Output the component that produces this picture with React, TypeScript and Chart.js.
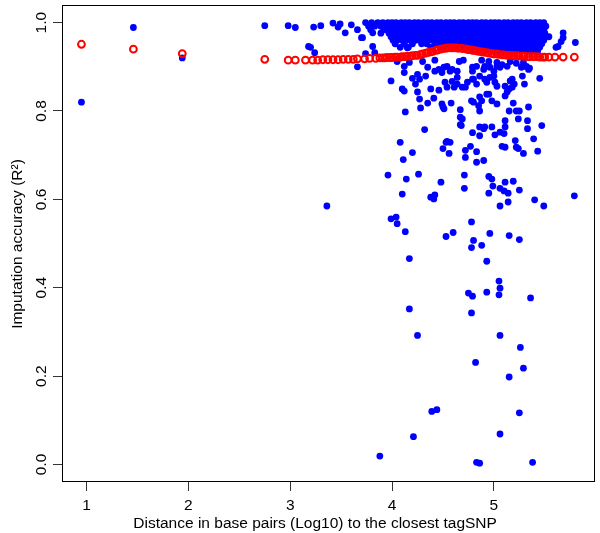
import React, { useEffect, useRef } from 'react';
import { Chart, registerables } from 'chart.js';

Chart.register(...registerables);

// ---------- axis definitions ----------
const X_TICKS = [1, 2, 3, 4, 5];
const Y_TICKS = [0, 0.2, 0.4, 0.6, 0.8, 1.0];
const X_LIMITS = [0.759, 5.983];
const Y_LIMITS = [-0.0396, 1.0376];
const X_TITLE = 'Distance in base pairs (Log10) to the closest tagSNP';
const Y_TITLE = 'Imputation accuracy (R\u00b2)';

// ---------- red smoothed accuracy (open circles) ----------
const smoothCurve: [number, number][] = [
  [0.95, 0.951], [1.46, 0.94], [1.94, 0.93], [2.75, 0.917], [2.98, 0.915], [3.05, 0.915],
  [3.15, 0.915], [3.22, 0.915], [3.27, 0.915], [3.32, 0.916], [3.37, 0.916], [3.42, 0.916],
  [3.47, 0.916], [3.52, 0.917], [3.57, 0.917], [3.62, 0.917], [3.66, 0.918], [3.73, 0.918],
  [3.78, 0.919], [3.84, 0.919], [3.88, 0.92], [3.91, 0.92], [3.93, 0.92], [3.95, 0.921],
  [3.98, 0.921], [4.0, 0.921], [4.03, 0.922], [4.05, 0.922], [4.08, 0.922], [4.1, 0.923],
  [4.13, 0.923], [4.15, 0.924], [4.18, 0.924], [4.2, 0.925], [4.23, 0.926], [4.25, 0.926],
  [4.28, 0.928], [4.3, 0.929], [4.33, 0.931], [4.35, 0.932], [4.38, 0.934], [4.4, 0.935],
  [4.43, 0.937], [4.45, 0.938], [4.48, 0.94], [4.5, 0.941], [4.53, 0.942], [4.55, 0.943],
  [4.58, 0.943], [4.6, 0.943], [4.63, 0.943], [4.65, 0.942], [4.68, 0.942], [4.7, 0.941],
  [4.73, 0.94], [4.75, 0.939], [4.78, 0.938], [4.8, 0.937], [4.83, 0.936], [4.85, 0.935],
  [4.88, 0.934], [4.9, 0.933], [4.93, 0.932], [4.95, 0.931], [4.98, 0.93], [5.0, 0.929],
  [5.03, 0.929], [5.05, 0.928], [5.08, 0.927], [5.1, 0.927], [5.13, 0.926], [5.15, 0.926],
  [5.18, 0.925], [5.2, 0.925], [5.23, 0.925], [5.25, 0.924], [5.28, 0.924], [5.3, 0.924],
  [5.33, 0.923], [5.35, 0.923], [5.38, 0.923], [5.4, 0.923], [5.43, 0.923], [5.45, 0.922],
  [5.48, 0.922], [5.5, 0.922], [5.54, 0.922], [5.6, 0.922], [5.68, 0.922], [5.79, 0.922],
];

// ---------- blue SNPs ----------
const isolatedSnps: [number, number][] = [
  [0.95, 0.82], [1.46, 0.989], [1.94, 0.92], [2.75, 0.993], [2.98, 0.993], [3.05, 0.989],
];

const sparseLeftSnps: [number, number][] = [
  [3.23, 0.99], [3.3, 0.993], [3.42, 0.999], [3.47, 0.99], [3.49, 0.997], [3.54, 0.977],
  [3.6, 0.995], [3.66, 0.984], [3.7, 0.966], [3.71, 0.966], [3.81, 0.977], [3.81, 0.946],
  [3.83, 0.932], [3.66, 0.9], [3.74, 0.93], [3.18, 0.946], [3.2, 0.944], [3.24, 0.932],
  [3.36, 0.585],
];

// dense band of near-perfect accuracy, one list of distances per accuracy level
const denseLevels = [1.0, 0.992, 0.984, 0.976, 0.968, 0.96, 0.952, 0.944, 0.936];
const denseDistances: number[][] = [
  [3.74, 3.8, 3.86, 3.91, 3.96, 4.0, 4.04, 4.09, 4.13, 4.17, 4.22, 4.26, 4.31, 4.35, 4.39, 4.44, 4.48, 4.53, 4.57, 4.61, 4.66, 4.7, 4.75, 4.79, 4.83, 4.88, 4.92, 4.97, 5.01, 5.05, 5.1, 5.14, 5.19, 5.23, 5.27, 5.32, 5.36, 5.41, 5.45, 5.49],
  [3.77, 3.83, 3.89, 3.94, 3.98, 4.02, 4.06, 4.11, 4.15, 4.19, 4.24, 4.28, 4.33, 4.37, 4.41, 4.46, 4.5, 4.55, 4.59, 4.63, 4.68, 4.72, 4.77, 4.81, 4.85, 4.9, 4.94, 4.99, 5.03, 5.07, 5.12, 5.16, 5.21, 5.25, 5.29, 5.34, 5.38, 5.43, 5.47, 5.51],
  [3.79, 3.92, 3.96, 4.0, 4.04, 4.08, 4.13, 4.17, 4.21, 4.26, 4.3, 4.34, 4.39, 4.43, 4.47, 4.52, 4.56, 4.61, 4.65, 4.69, 4.74, 4.78, 4.83, 4.87, 4.91, 4.96, 5.0, 5.04, 5.09, 5.13, 5.18, 5.22, 5.26, 5.31, 5.35, 5.4, 5.44, 5.49],
  [3.89, 3.97, 4.01, 4.06, 4.1, 4.15, 4.19, 4.23, 4.28, 4.32, 4.36, 4.41, 4.45, 4.5, 4.54, 4.58, 4.63, 4.67, 4.71, 4.76, 4.8, 4.85, 4.89, 4.93, 4.98, 5.02, 5.06, 5.11, 5.15, 5.2, 5.24, 5.28, 5.33, 5.37, 5.42, 5.46, 5.5],
  [3.99, 4.03, 4.08, 4.12, 4.16, 4.21, 4.25, 4.3, 4.34, 4.38, 4.43, 4.47, 4.51, 4.56, 4.6, 4.65, 4.69, 4.73, 4.78, 4.82, 4.86, 4.91, 4.95, 5.0, 5.04, 5.08, 5.13, 5.17, 5.21, 5.26, 5.3, 5.35, 5.39, 5.43, 5.48],
  [4.01, 4.05, 4.1, 4.14, 4.18, 4.23, 4.27, 4.32, 4.36, 4.4, 4.45, 4.49, 4.53, 4.58, 4.62, 4.67, 4.71, 4.75, 4.8, 4.84, 4.88, 4.93, 4.97, 5.02, 5.06, 5.1, 5.15, 5.19, 5.23, 5.28, 5.32, 5.37, 5.41, 5.45, 5.49],
  [4.03, 4.12, 4.2, 4.29, 4.34, 4.42, 4.47, 4.51, 4.55, 4.6, 4.64, 4.69, 4.73, 4.77, 4.82, 4.86, 4.9, 4.95, 4.99, 5.04, 5.08, 5.12, 5.17, 5.21, 5.25, 5.3, 5.34, 5.39, 5.43, 5.47],
  [4.08, 4.16, 4.38, 4.49, 4.58, 4.66, 4.71, 4.75, 4.79, 4.84, 4.88, 4.92, 4.97, 5.01, 5.06, 5.1, 5.14, 5.19, 5.23, 5.28, 5.32, 5.37, 5.41, 5.45],
  [4.8, 4.86, 4.91, 4.95, 5.0, 5.05, 5.11, 5.16, 5.21, 5.27, 5.32, 5.38, 5.43],
];

const rightSnps: [number, number][] = [
  [5.54, 0.968], [5.61, 0.944], [5.63, 0.946], [5.66, 0.957], [5.68, 0.966], [5.68, 0.977],
  [5.8, 0.955], [5.79, 0.608], [5.34, 0.894], [5.29, 0.91], [5.32, 0.901], [5.45, 0.874],
];

const upperSnps: [number, number][] = [
  [3.99, 0.868], [4.1, 0.85], [4.12, 0.845], [4.12, 0.901], [4.12, 0.887], [4.2, 0.874],
  [4.25, 0.883], [4.27, 0.872], [4.33, 0.879], [4.35, 0.899], [4.23, 0.861], [4.25, 0.843],
  [4.27, 0.827], [4.28, 0.807], [4.13, 0.798], [4.35, 0.818], [4.41, 0.829], [4.38, 0.85],
  [4.46, 0.847], [4.42, 0.89], [4.46, 0.894], [4.49, 0.887], [4.51, 0.899], [4.54, 0.901],
  [4.52, 0.865], [4.54, 0.854], [4.59, 0.867], [4.61, 0.854], [4.64, 0.876], [4.64, 0.861],
  [4.69, 0.854], [4.72, 0.854], [4.74, 0.865], [4.49, 0.816], [4.5, 0.809], [4.58, 0.818],
  [4.67, 0.803], [4.78, 0.823], [4.79, 0.872], [4.79, 0.89], [4.57, 0.89], [4.59, 0.894],
  [4.64, 0.89], [4.79, 0.899], [4.83, 0.901], [4.9, 0.894], [4.91, 0.901], [4.96, 0.899],
  [5.0, 0.89], [5.03, 0.901], [5.06, 0.899], [4.8, 0.872], [4.83, 0.861], [4.86, 0.879],
  [4.91, 0.872], [4.93, 0.865], [4.96, 0.876], [5.0, 0.879], [5.01, 0.865], [5.03, 0.856],
  [5.13, 0.901], [5.27, 0.899], [5.3, 0.901], [5.35, 0.897], [5.28, 0.879], [5.3, 0.861],
  [5.18, 0.872], [5.11, 0.856], [5.15, 0.85], [5.18, 0.854], [5.2, 0.861], [5.13, 0.843],
  [5.11, 0.834], [4.8, 0.82], [4.86, 0.832], [4.88, 0.823], [4.93, 0.838], [4.95, 0.838],
  [4.98, 0.823], [5.03, 0.816], [4.85, 0.812], [4.86, 0.8], [5.19, 0.818], [5.34, 0.809],
  [5.15, 0.8], [5.22, 0.8], [5.25, 0.8], [4.51, 0.805], [4.15, 0.943], [4.05, 0.912],
  [4.17, 0.91], [4.3, 0.912], [4.42, 0.915], [4.66, 0.912], [4.7, 0.915], [4.88, 0.915],
  [4.95, 0.912], [5.03, 0.91], [5.08, 0.905], [5.16, 0.912], [5.22, 0.908], [5.16, 0.868],
];

const middleSnps: [number, number][] = [
  [4.67, 0.786], [4.68, 0.767], [4.32, 0.758], [4.79, 0.751], [4.08, 0.729], [4.54, 0.731],
  [5.24, 0.782], [5.33, 0.778], [5.33, 0.76], [5.47, 0.767], [5.11, 0.778], [5.11, 0.764],
  [4.86, 0.764], [4.9, 0.76], [4.91, 0.764], [4.98, 0.764], [4.86, 0.744], [5.01, 0.746],
  [5.1, 0.749], [5.06, 0.752], [5.21, 0.733], [5.39, 0.737], [4.2, 0.706], [4.11, 0.69],
  [3.96, 0.655], [4.14, 0.646], [4.26, 0.657], [4.1, 0.612], [4.48, 0.639], [4.38, 0.605],
  [4.42, 0.61], [4.41, 0.601], [4.69, 0.782], [4.67, 0.769], [5.43, 0.709], [5.29, 0.704],
  [5.22, 0.718], [5.24, 0.715], [5.08, 0.72], [5.11, 0.718], [4.53, 0.729], [4.57, 0.729],
  [4.5, 0.715], [4.56, 0.704], [4.72, 0.711], [4.77, 0.72], [4.83, 0.708], [4.72, 0.695],
  [4.83, 0.684], [4.9, 0.688], [4.71, 0.655], [4.71, 0.625], [4.95, 0.652], [4.98, 0.646],
  [4.99, 0.63], [4.95, 0.614], [5.06, 0.625], [5.1, 0.619], [5.14, 0.614], [5.11, 0.639],
  [5.19, 0.641], [5.25, 0.621], [5.14, 0.594], [5.06, 0.585], [5.4, 0.599], [5.49, 0.585],
];

const lowSnps: [number, number][] = [
  [3.99, 0.556], [4.04, 0.56], [4.05, 0.545], [4.13, 0.527], [4.17, 0.466], [4.53, 0.516],
  [4.6, 0.525], [4.78, 0.549], [4.8, 0.507], [4.78, 0.491], [4.88, 0.496], [4.96, 0.523],
  [5.15, 0.518], [5.25, 0.509], [4.93, 0.46], [5.05, 0.415], [5.06, 0.399], [5.05, 0.384],
  [4.93, 0.39], [4.75, 0.388], [4.79, 0.381], [5.36, 0.377], [4.17, 0.352], [4.78, 0.343],
  [4.25, 0.292], [5.06, 0.292], [5.26, 0.265], [4.82, 0.231], [5.29, 0.218], [5.15, 0.198],
  [4.39, 0.12], [4.44, 0.124], [5.25, 0.117], [4.21, 0.063], [5.06, 0.069], [3.88, 0.019],
  [4.83, 0.005], [4.86, 0.003], [5.38, 0.005],
];

const FONT_FAMILY = '"Liberation Sans", Arial, Helvetica, sans-serif';

const toXY = (pairs: [number, number][]) => pairs.map(([x, y]) => ({ x, y }));

const boxPlugin = {
  id: 'rBox',
  afterDatasetsDraw(chart: any) {
    const { ctx, chartArea: a } = chart;
    ctx.save();
    ctx.strokeStyle = '#000';
    ctx.lineWidth = 1;
    ctx.strokeRect(a.left + 0.5, a.top - 0.5, a.right - a.left, a.bottom - a.top);
    ctx.restore();
  },
};

export default function App() {
  const ref = useRef<HTMLCanvasElement | null>(null);

  useEffect(() => {
    document.body.style.margin = '0';
    if (!ref.current) return;

    const densePoints: { x: number; y: number }[] = [];
    denseLevels.forEach((y, i) => {
      denseDistances[i].forEach((x) => densePoints.push({ x, y }));
    });

    const bluePoints = [
      ...toXY(isolatedSnps),
      ...toXY(sparseLeftSnps),
      ...densePoints,
      ...toXY(rightSnps),
      ...toXY(upperSnps),
      ...toXY(middleSnps),
      ...toXY(lowSnps),
    ];

    const tickFont = { family: FONT_FAMILY, size: 15.5 };

    const chart = new Chart(ref.current, {
      type: 'scatter',
      data: {
        datasets: [
          {
            label: 'smoothed',
            data: toXY(smoothCurve),
            pointStyle: 'circle',
            pointRadius: 3.4,
            pointBorderWidth: 2,
            borderColor: '#ff0000',
            pointBorderColor: '#ff0000',
            backgroundColor: 'rgba(0,0,0,0)',
            pointBackgroundColor: 'rgba(0,0,0,0)',
            showLine: false,
          },
          {
            label: 'SNPs',
            data: bluePoints,
            pointStyle: 'circle',
            pointRadius: 3.4,
            pointBorderWidth: 0,
            backgroundColor: '#0000ff',
            pointBackgroundColor: '#0000ff',
            borderColor: '#0000ff',
            showLine: false,
          },
        ],
      },
      options: {
        responsive: false,
        animation: false,
        events: [],
        layout: { padding: { top: 1, right: 2, left: 0, bottom: 0 } },
        plugins: {
          legend: { display: false },
          tooltip: { enabled: false },
        },
        scales: {
          x: {
            type: 'linear',
            min: X_LIMITS[0],
            max: X_LIMITS[1],
            afterBuildTicks: (s: any) => {
              s.ticks = X_TICKS.map((v) => ({ value: v }));
            },
            afterFit: (s: any) => {
              s.height = 51;
              s.paddingLeft = 0;
              s.paddingRight = 0;
            },
            grid: {
              drawOnChartArea: false,
              drawTicks: true,
              tickLength: 9,
              tickColor: '#333',
              color: '#333',
            },
            border: { display: false },
            ticks: {
              color: '#000',
              font: tickFont,
              padding: 5,
              maxRotation: 0,
              minRotation: 0,
              autoSkip: false,
              callback: (v: any) => String(v),
            },
            title: {
              display: true,
              text: X_TITLE + '\u00a0\u00a0\u00a0\u00a0\u00a0\u00a0',
              color: '#000',
              font: tickFont,
              padding: { top: 0, bottom: 0 },
            },
          },
          y: {
            type: 'linear',
            min: Y_LIMITS[0],
            max: Y_LIMITS[1],
            afterBuildTicks: (s: any) => {
              s.ticks = Y_TICKS.map((v) => ({ value: v }));
            },
            afterFit: (s: any) => {
              s.width = 62;
              s.paddingTop = 0;
              s.paddingBottom = 0;
            },
            grid: {
              drawOnChartArea: false,
              drawTicks: true,
              tickLength: 9,
              tickColor: '#333',
              color: '#333',
            },
            border: { display: false },
            ticks: {
              color: '#000',
              font: tickFont,
              padding: 1,
              minRotation: 90,
              maxRotation: 90,
              crossAlign: 'center',
              autoSkip: false,
              callback: (v: any) => Number(v).toFixed(1),
            },
            title: {
              display: true,
              text: Y_TITLE,
              color: '#000',
              font: tickFont,
              padding: { top: 8, bottom: 0 },
            },
          },
        },
      },
      plugins: [boxPlugin],
    } as any);

    return () => chart.destroy();
  }, []);

  return <canvas ref={ref} width={600} height={533} style={{ display: 'block' }} />;
}
